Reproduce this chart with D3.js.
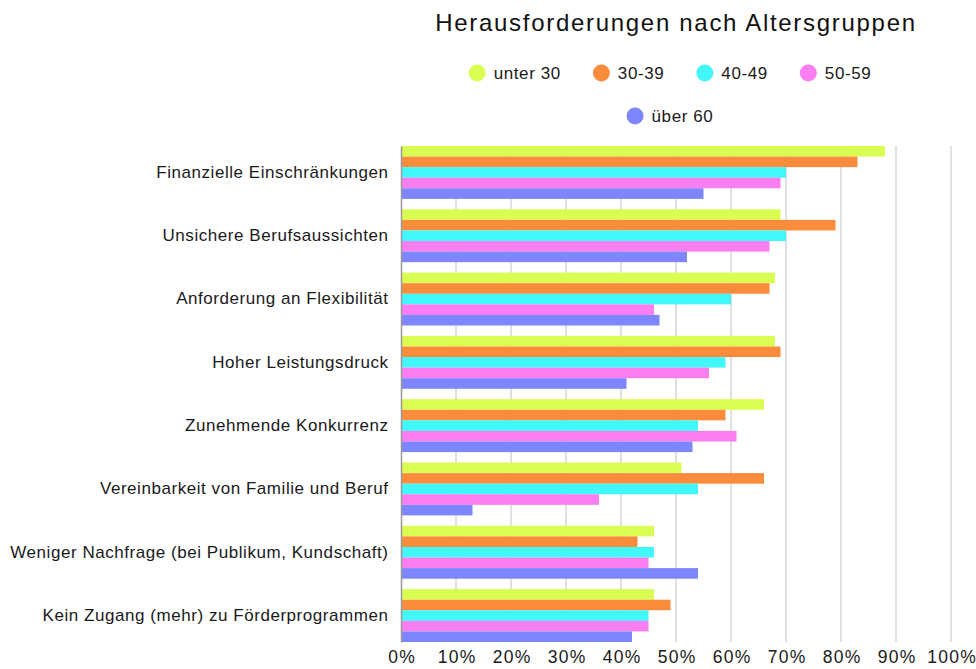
<html><head><meta charset="utf-8">
<style>
  body { margin: 0; background: white; font-family: "Liberation Sans", Arial, Helvetica, sans-serif; }
  svg { display: block; }
</style>
</head>
<script src="https://cdn.jsdelivr.net/npm/d3@7"></script>
<body>
<svg id="chart"></svg>
<script>
  // data
  let categories = [
    "Finanzielle Einschränkungen",
    "Unsichere Berufsaussichten",
    "Anforderung an Flexibilität",
    "Hoher Leistungsdruck",
    "Zunehmende Konkurrenz",
    "Vereinbarkeit von Familie und Beruf",
    "Weniger Nachfrage (bei Publikum, Kundschaft)",
    "Kein Zugang (mehr) zu Förderprogrammen"
  ]
  let seriesNames = ["unter 30", "30-39", "40-49", "50-59", "über 60"]
  let unter30 = [88, 69, 68, 68, 66, 51, 46, 46]
  let age30 = [83, 79, 67, 69, 59, 66, 43, 49]
  let age40 = [70, 70, 60, 59, 54, 54, 46, 45]
  let age50 = [69, 67, 46, 56, 61, 36, 45, 45]
  let ueber60 = [55, 52, 47, 41, 53, 13, 54, 42]
  let xTicks = [0, 10, 20, 30, 40, 50, 60, 70, 80, 90, 100]
  let colors = ["#d9fd50", "#fb8c3c", "#42f7fa", "#fb7ef0", "#7d86fc"]

  let allSeries = [unter30, age30, age40, age50, ueber60]

  function getConfig() {
    let width = 976
    let height = 669
    let margin = { top: 146, bottom: 27, left: 401, right: 25 }
    let bodyWidth = width - margin.left - margin.right
    let bodyHeight = height - margin.top - margin.bottom
    let container = d3.select('#chart')
      .attr('width', width)
      .attr('height', height)
    return { width, height, margin, bodyWidth, bodyHeight, container }
  }

  function getScales(config) {
    let xScale = d3.scaleLinear()
      .domain([0, 100])
      .range([0, config.bodyWidth])
    let yScale = d3.scaleBand()
      .domain(categories)
      .range([0, config.bodyHeight])
      .paddingInner(0.165)
      .paddingOuter(0)
    let inner = d3.scaleBand()
      .domain(seriesNames)
      .range([0, yScale.bandwidth()])
    return { xScale, yScale, inner }
  }

  function drawGrid(config, scales) {
    let { container, margin, bodyHeight } = config
    let { xScale } = scales
    let grid = container.append('g')
      .attr('transform', `translate(${margin.left},${margin.top})`)
    grid.selectAll('line')
      .data(xTicks.filter(t => t > 0))
      .enter().append('line')
      .attr('x1', d => xScale(d))
      .attr('x2', d => xScale(d))
      .attr('y1', 0)
      .attr('y2', bodyHeight)
      .attr('stroke', '#d6d6d6')
      .attr('stroke-width', 1.5)
  }

  function drawBars(config, scales) {
    let { container, margin } = config
    let { xScale, yScale, inner } = scales
    let body = container.append('g')
      .attr('transform', `translate(${margin.left},${margin.top})`)
    let rows = []
    categories.forEach((c, i) => {
      seriesNames.forEach((s, j) => {
        rows.push({ category: c, series: s, value: allSeries[j][i], color: colors[j] })
      })
    })
    body.selectAll('rect')
      .data(rows)
      .enter().append('rect')
      .attr('x', 0)
      .attr('y', d => yScale(d.category) + inner(d.series))
      .attr('width', d => xScale(d.value))
      .attr('height', inner.bandwidth())
      .attr('fill', d => d.color)
  }

  function drawAxes(config, scales) {
    let { container, margin, height, bodyHeight } = config
    let { xScale, yScale } = scales

    let axisX = d3.axisBottom(xScale)
      .tickValues(xTicks)
      .tickFormat(d => d + '%')
      .tickSize(0)
      .tickPadding(9)
    let gx = container.append('g')
      .attr('transform', `translate(${margin.left},${margin.top + bodyHeight})`)
      .call(axisX)
    gx.select('.domain').remove()
    gx.selectAll('text')
      .attr('font-family', '"Liberation Sans", Arial, sans-serif')
      .attr('font-size', 17.5)
      .attr('letter-spacing', 1.2)
      .attr('dx', 0.6)
      .attr('fill', '#1a1a1a')

    let axisY = d3.axisLeft(yScale)
      .tickSize(0)
      .tickPadding(12.5)
    let gy = container.append('g')
      .attr('transform', `translate(${margin.left},${margin.top})`)
      .call(axisY)
    gy.select('.domain')
      .attr('stroke', '#999')
      .attr('stroke-width', 1.5)
    gy.selectAll('text')
      .attr('font-family', '"Liberation Sans", Arial, sans-serif')
      .attr('font-size', 17)
      .attr('letter-spacing', 0.55)
      .attr('fill', '#1a1a1a')
  }

  function drawTitle(config) {
    let { container, margin, bodyWidth } = config
    container.append('text')
      .attr('x', margin.left + bodyWidth / 2)
      .attr('y', 31)
      .attr('text-anchor', 'middle')
      .attr('font-size', 24)
      .attr('letter-spacing', 1.7)
      .attr('fill', '#111')
      .text('Herausforderungen nach Altersgruppen')
  }

  function drawLegend(config) {
    let { container } = config
    let rowsOfItems = [seriesNames.slice(0, 4), seriesNames.slice(4)]
    let rowY = [73, 116]
    let center = 670
    rowsOfItems.forEach((items, r) => {
      let g = container.append('g')
      let x = 0
      items.forEach((name, k) => {
        let idx = seriesNames.indexOf(name)
        let item = g.append('g').attr('transform', `translate(${x},0)`)
        item.append('circle')
          .attr('cx', 8.5)
          .attr('cy', 0)
          .attr('r', 8.5)
          .attr('fill', colors[idx])
        let t = item.append('text')
          .attr('x', 25)
          .attr('y', 0)
          .attr('dy', '0.35em')
          .attr('font-size', 17)
          .attr('letter-spacing', 0.6)
          .attr('fill', '#1a1a1a')
          .text(name)
        let w = t.node().getComputedTextLength()
        x += 25 + w + (k < items.length - 1 ? 32 : 0)
      })
      g.attr('transform', `translate(${center - x / 2},${rowY[r]})`)
    })
  }

  let config = getConfig()
  let scales = getScales(config)
  drawGrid(config, scales)
  drawBars(config, scales)
  drawAxes(config, scales)
  drawTitle(config)
  drawLegend(config)
</script>
</body></html>
